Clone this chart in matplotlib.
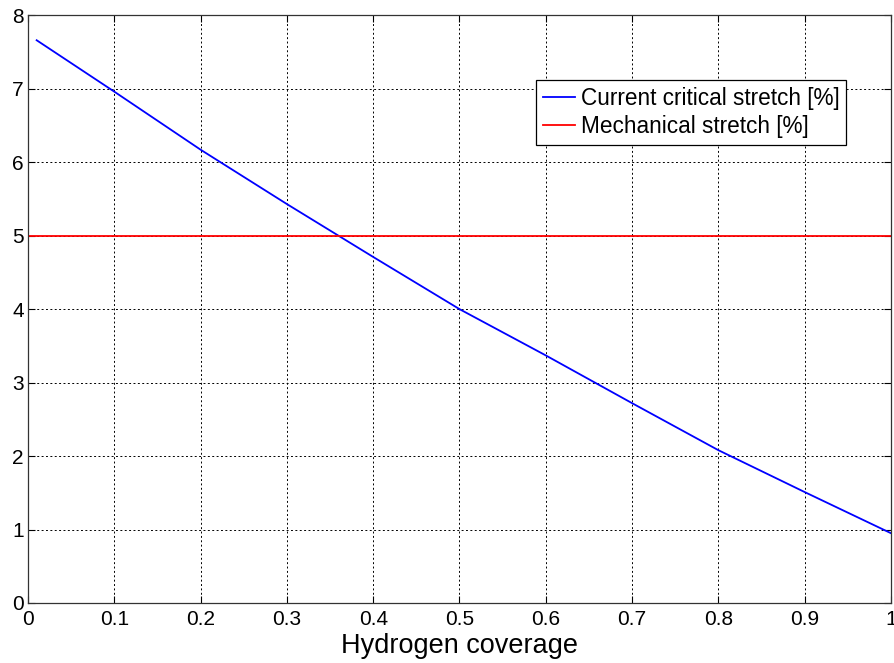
import numpy as np
import matplotlib
matplotlib.use('Agg')
import matplotlib.pyplot as plt

# data
coverage = [0.01, 0.1, 0.2, 0.3, 0.4, 0.5, 0.6, 0.7, 0.8, 0.9, 1.0]
critical_stretch = [7.66, 6.96, 6.17, 5.43, 4.71, 4.00, 3.37, 2.72, 2.08, 1.51, 0.95]
mech_x = [0.0, 1.0]
mech_stretch = [5.0, 5.0]

xticks = [0, 0.1, 0.2, 0.3, 0.4, 0.5, 0.6, 0.7, 0.8, 0.9, 1]
xticklabels = ['0', '0.1', '0.2', '0.3', '0.4', '0.5', '0.6', '0.7', '0.8', '0.9', '1']
yticks = [0, 1, 2, 3, 4, 5, 6, 7, 8]

plt.rcParams['font.family'] = ['Liberation Sans', 'DejaVu Sans']

fig = plt.figure(figsize=(8.95, 6.63), dpi=100)
ax = fig.add_axes([0.0313, 0.0905, 0.9642, 0.8865])

ax.plot(coverage, critical_stretch, color='#0000ff', lw=1.3, label='Current critical stretch [%]')
ax.plot(mech_x, mech_stretch, color='#ff0000', lw=1.3, label='Mechanical stretch [%]')

ax.set_xlim(0, 1)
ax.set_ylim(0, 8)
ax.set_xticks(xticks)
ax.set_xticklabels(xticklabels)
ax.set_yticks(yticks)

ax.grid(True, color='black', linestyle=(0, (2, 2.5)), lw=0.7)
ax.tick_params(direction='in', top=True, right=True, length=5, width=0.8,
               labelsize=15, colors='black')
ax.tick_params(axis='x', pad=5)
ax.tick_params(axis='y', pad=3)
for s in ax.spines.values():
    s.set_color('#333333')
    s.set_linewidth(0.9)

ax.set_xlabel('Hydrogen coverage', fontsize=19.5, labelpad=3)

leg = ax.legend(loc='upper right', bbox_to_anchor=(0.948, 0.889), fontsize=16.3,
                fancybox=False, framealpha=1, edgecolor='black',
                handlelength=1.4, handletextpad=0.25, borderpad=0.3,
                labelspacing=0.2, borderaxespad=0)
leg.get_frame().set_linewidth(0.9)

fig.savefig('out.png', dpi=100)
